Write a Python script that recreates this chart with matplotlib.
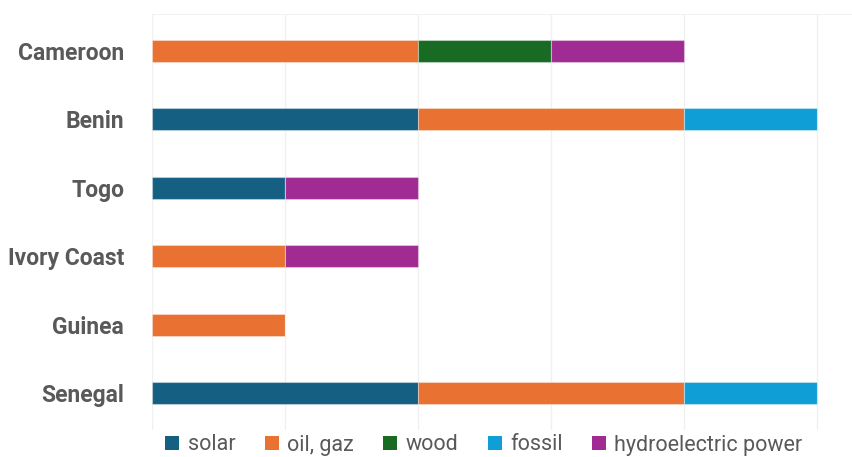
import matplotlib
matplotlib.use("Agg")
import matplotlib.pyplot as plt
from matplotlib.patches import Patch
import numpy as np

countries = ["Cameroon", "Benin", "Togo", "Ivory Coast", "Guinea", "Senegal"]
series_names = ["solar", "oil, gaz", "wood", "fossil", "hydroelectric power"]
solar = [0, 2, 1, 0, 0, 2]
oil_gaz = [2, 2, 0, 1, 1, 2]
wood = [1, 0, 0, 0, 0, 0]
fossil = [0, 1, 0, 0, 0, 1]
hydro = [1, 0, 1, 1, 0, 0]
colors = ["#156082", "#E97132", "#196B24", "#0F9ED5", "#A02B93"]

plt.rcParams['font.family'] = ['Roboto', 'DejaVu Sans']

fig = plt.figure(figsize=(8.53, 4.57), dpi=100)
ax = fig.add_axes([152/853, 1-430/457, 1-152/853, (430-14)/457])

y = np.arange(len(countries))
left = np.zeros(len(countries))
for vals, c in zip([solar, oil_gaz, wood, fossil, hydro], colors):
    v = np.array(vals, dtype=float)
    ax.barh(y, v, left=left, height=0.32, color=c, edgecolor=(1, 1, 1, 0.35), linewidth=0.8, zorder=3)
    left += v

ax.set_xlim(0, 701/133)
ax.set_ylim(5.54, -0.54)
ax.set_yticks(y)
ax.set_yticklabels(countries, fontsize=16.5, fontweight='bold', color='#595959')
ax.tick_params(axis='y', length=0, pad=20)
ax.set_xticks(np.arange(0, 6))
ax.tick_params(axis='x', length=0, labelbottom=False)
ax.grid(axis='x', color='#f0f0f0', linewidth=1, zorder=0)
for s in ['left', 'right', 'bottom']:
    ax.spines[s].set_visible(False)
ax.spines['top'].set_color('#f2f2f2')

handles = [Patch(facecolor=c, edgecolor='none') for c in colors]
fig.legend(handles, series_names, loc='center', bbox_to_anchor=(484/853, 1-445/457), ncol=5,
           frameon=False, fontsize=15.5, labelcolor='#595959', handlelength=0.65, handleheight=0.65,
           handletextpad=0.4, columnspacing=1.35, borderpad=0.1)

fig.savefig("out.png", dpi=100)
